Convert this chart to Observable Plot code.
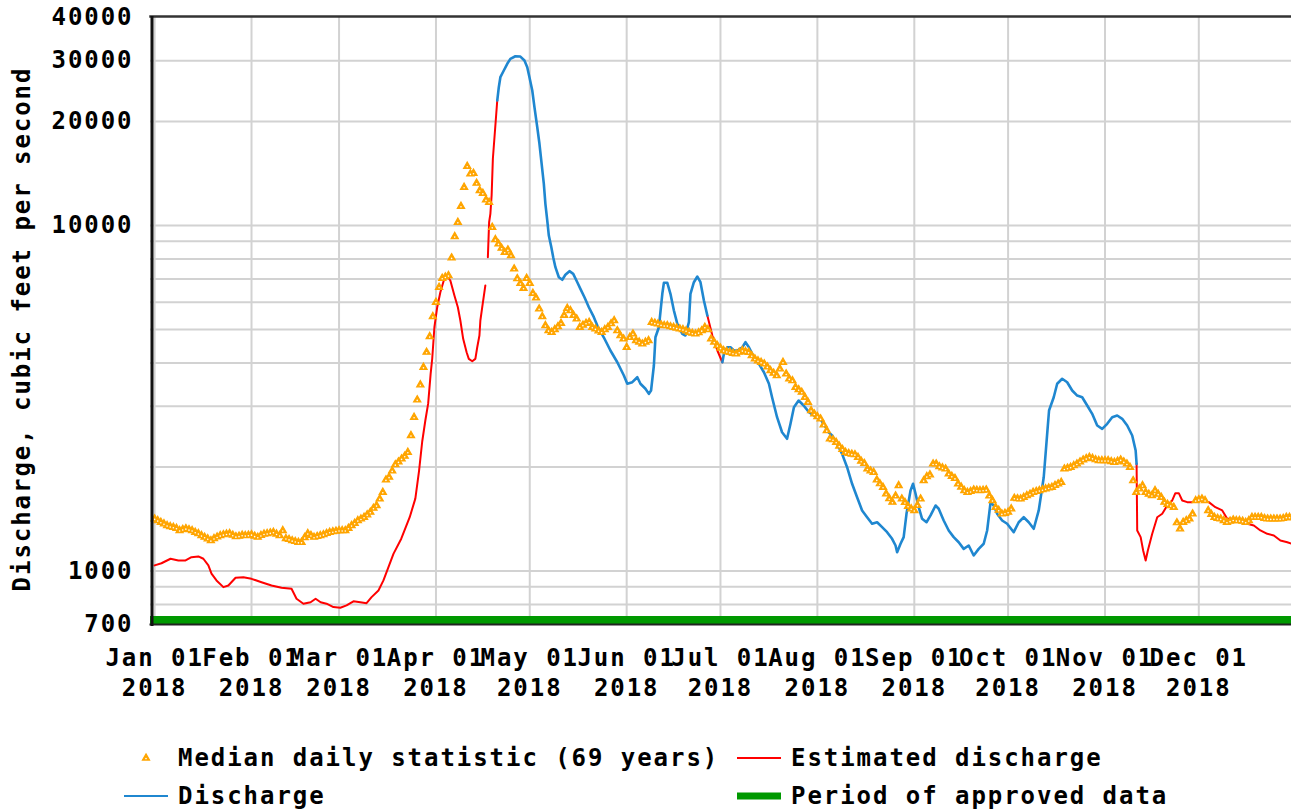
<!DOCTYPE html>
<html>
<head>
<meta charset="utf-8">
<script src="https://cdn.jsdelivr.net/npm/d3@7"></script>
<script src="https://cdn.jsdelivr.net/npm/@observablehq/plot@0.6"></script>
<style>
  html, body { margin: 0; padding: 0; background: #fff; }
  body { width: 1291px; height: 810px; position: relative; overflow: hidden;
         font-family: "DejaVu Sans Mono", monospace; font-weight: bold; }
  #chart { position: absolute; left: 0; top: 0; }
  .lg { position: absolute; font-size: 24px; letter-spacing: 1.95px; line-height: 24px;
        white-space: nowrap; color: #000; }
  .sw { position: absolute; }
</style>
</head>
<body>
<div id="chart"></div>
<div id="legend"></div>
<script>
// ---------------- data ----------------
const year = 2018;
// Median daily statistic (69 years), one value per day starting Jan 1
const medianValues = [
  1416,1400,1384,1370,1354,1345,1339,1330,1310,1320,
  1327,1318,1310,1295,1284,1267,1253,1240,1225,1242,
  1255,1267,1275,1280,1284,1270,1258,1262,1270,1267,
  1270,1275,1262,1253,1268,1280,1284,1290,1295,1280,
  1267,1310,1242,1235,1225,1218,1211,1211,1250,1284,
  1268,1253,1260,1267,1275,1285,1295,1300,1305,1310,
  1310,1310,1330,1354,1375,1400,1415,1431,1455,1480,
  1520,1547,1618,1690,1836,1870,1950,2033,2070,2112,
  2150,2207,2467,2787,3130,3460,3888,4300,4772,5453,
  5997,6629,7038,7100,7165,8064,9293,10220,11370,12910,
  14845,14115,14170,13260,12630,12400,11870,11680,9885,9109,
  8851,8600,8370,8504,8187,7492,7023,6800,6585,7038,
  6806,6368,6177,5739,5453,5135,4966,4910,5000,5100,
  5215,5500,5763,5675,5500,5370,5077,5150,5215,5250,
  5077,5023,4960,4910,5000,5077,5200,5309,4966,4800,
  4699,4443,4749,4858,4646,4600,4545,4600,4646,5250,
  5220,5193,5160,5135,5135,5100,5077,5050,5023,5000,
  4960,4910,4880,4858,4900,4966,5077,5000,4699,4600,
  4494,4420,4347,4320,4297,4270,4252,4300,4347,4320,
  4297,4200,4112,4060,4020,3978,3900,3804,3740,3679,
  3850,4020,3721,3600,3558,3403,3350,3293,3184,3080,
  2914,2850,2800,2757,2650,2550,2413,2400,2359,2300,
  2250,2207,2190,2180,2173,2134,2080,2050,1975,1950,
  1931,1836,1790,1748,1673,1620,1582,1650,1768,1618,
  1580,1540,1514,1497,1550,1618,1827,1877,1900,2042,
  2042,2006,1990,1975,1911,1880,1855,1788,1750,1710,
  1690,1700,1718,1714,1710,1714,1718,1650,1600,1530,
  1500,1464,1470,1480,1514,1625,1620,1618,1635,1654,
  1670,1690,1700,1710,1720,1730,1740,1748,1770,1788,
  1807,1975,1985,1997,2020,2042,2070,2098,2116,2134,
  2120,2100,2088,2088,2088,2088,2075,2064,2080,2098,
  2070,2042,1997,1827,1690,1730,1768,1690,1670,1654,
  1710,1670,1635,1582,1560,1547,1530,1380,1325,1384,
  1400,1416,1464,1600,1610,1618,1600,1497,1460,1431,
  1420,1416,1400,1384,1395,1406,1400,1400,1395,1384,
  1400,1431,1431,1431,1431,1420,1416,1416,1416,1416,
  1416,1420,1431,1431,1425
];

// Estimated discharge (day of year from Jan 1 = 0, value, segment)
const estDays = [
  0,2.2,5.1,7.6,9.9,11.8,14,15.6,17.2,18.2,19.8,22,23.6,25.9,28.4,31,34.2,37.4,40.6,43.8,
  45.4,47.6,49.9,51.5,53.1,55,57.2,59.4,61.4,63.6,65.8,67.8,69.4,71.6,73.2,74.8,76.4,78.9,81.6,83.4,
  84.6,85.6,86.6,87.5,88.3,88.8,89.5,90.4,91.4,92.5,93.6,94.6,95.9,97,97.8,98.7,99.8,100.5,101.6,102.6,
  103.2,103.9,104.2,104.8,105.8,
  106.6,107,107.4,107.8,108.2,109,109.6,
  176.8,178.4,180,181.6,
  314.1,314.3,315.4,316.2,317,317.7,319.1,320.7,322.3,323.9,325.5,326.5,327.6,328.7,330.3,331.9,333.5,
  335.1,337.2,339.3,341.5,343.1,345.2,347.4,349.5,351.6,353.7,355.9,358,360.1,362.3,363.7
];
const estValues = [
  1038,1053,1085,1073,1073,1096,1102,1085,1038,982,939,898,908,956,959,949,928,908,894,888,
  831,804,812,831,812,804,786,783,795,817,812,807,840,878,939,1026,1121,1240,1431,1620,
  1953,2370,2726,3050,3725,4115,5077,5801,6411,6931,7117,6931,6272,5801,5309,4699,4297,4112,4047,4112,
  4443,4804,5309,5801,6705,
  8095,10220,10810,12215,15600,19470,23000,
  5489,4804,4347,4020,
  2042,1310,1253,1146,1072,1146,1281,1431,1464,1547,1600,1680,1680,1600,1582,1582,1607,
  1600,1582,1530,1497,1416,1416,1400,1370,1354,1310,1281,1267,1225,1211,1199
];
const estSeg = [
  ...Array(65).fill(1), ...Array(7).fill(2), ...Array(4).fill(3), ...Array(33).fill(4)
];

// Discharge (approved)
const disDays = [
  109.6,110.1,110.6,111.7,112.8,113.8,115.4,117,118.3,119.2,119.9,120.8,121.5,122.4,123.1,123.8,124.5,125,125.6,126.1,
  126.9,127.5,128.2,129.3,130.4,131.4,132.7,133.9,135.2,136.2,137.5,138.9,140.5,141.6,143.7,145.8,148,150.1,151.2,152.8,
  154.4,155.4,157,158.1,158.8,159.7,160.2,161.3,162.4,162.9,164,165,166.1,167.2,168.8,169.8,170.9,171.4,172.5,173.6,
  174.6,175.7,176.8,
  181.6,182.1,183.2,184.2,185.3,186.4,188,189,190.1,191.7,193.3,194.9,196.5,197.5,199.1,200.7,202.3,203.4,204.5,206,
  207.6,209.3,210.9,212.5,214,215.6,216.7,218.3,219.9,221.5,223.1,224.7,226.3,227.9,229.5,231.1,232.7,234.3,235.9,237,
  237.5,238.6,239.6,240.5,241.8,242.6,243.4,244.4,245.5,246.9,248.2,249.8,250.8,252.4,254,255.6,257.2,258.8,260.4,262,
  263.6,265.2,266.3,267.4,268.4,269.5,271.1,272.7,274.8,276.4,278,279.6,281.2,282.8,284.4,285.5,286.1,287.6,288.7,290.3,
  291.9,293.5,295.1,296.7,298.3,299.9,301.5,303.1,304.7,306.3,307.9,309.5,311.1,312.7,313.8,314.1
];
const disValues = [
  23000,25140,26870,28100,29380,30370,30900,30830,30030,28720,26870,24590,22000,19250,17240,15085,13200,11555,10330,9354,
  8654,8095,7574,7084,6963,7200,7375,7247,6851,6557,6201,5801,5427,5135,4740,4347,4020,3679,3482,3520,
  3638,3482,3368,3256,3330,3933,4749,5077,6343,6825,6825,6343,5675,5193,4858,4804,5250,6343,6851,7117,
  6851,6067,5489,
  4020,4252,4443,4443,4347,4347,4443,4594,4443,4158,3978,3761,3482,3184,2787,2521,2413,2667,2979,3115,
  3013,2882,2818,2787,2667,2521,2467,2334,2183,1997,1788,1635,1497,1431,1370,1384,1339,1295,1239,1185,
  1133,1199,1253,1464,1710,1788,1673,1530,1416,1384,1448,1547,1514,1400,1310,1253,1211,1159,1185,1109,
  1159,1199,1310,1582,1547,1464,1400,1370,1295,1384,1431,1384,1325,1497,1868,2495,2914,3184,3482,3600,
  3519,3330,3219,3184,3013,2850,2637,2579,2667,2787,2818,2757,2637,2467,2232,2042
];
const disSeg = [...Array(63).fill(1), ...Array(disDays.length - 63).fill(2)];

// Period of approved data
const approvedStart = -1.31;
const approvedEnd = 363.65;

// axis ticks
const monthLabels = ["Jan","Feb","Mar","Apr","May","Jun","Jul","Aug","Sep","Oct","Nov","Dec"];
const yTickValues = [700, 1000, 10000, 20000, 30000, 40000];
const yGridValues = [800, 900, 1000, 2000, 3000, 4000, 5000, 6000, 7000, 8000, 9000, 10000, 20000, 30000];
const yLabel = "Discharge, cubic feet per second";

// legend
const legendItems = [
  {label: "Median daily statistic (69 years)", kind: "dot", color: "#ffa500"},
  {label: "Estimated discharge", kind: "line", color: "#ff0000"},
  {label: "Discharge", kind: "line", color: "#1f87d0"},
  {label: "Period of approved data", kind: "bar", color: "#009900"}
];

// ---------------- build ----------------
const DAY = 86400000;
const t0 = Date.UTC(year, 0, 1);
const toDate = d => new Date(t0 + d * DAY);

const median = medianValues.map((v, i) => ({date: toDate(i), value: v}));
const est = estDays.map((d, i) => ({date: toDate(d), value: estValues[i], seg: estSeg[i]}));
const dis = disDays.map((d, i) => ({date: toDate(d), value: disValues[i], seg: disSeg[i]}));
const months = monthLabels.map((m, i) => new Date(Date.UTC(year, i, 1)));
const approved = [{start: toDate(approvedStart), end: toDate(approvedEnd)}];

const fmtX = d => `${monthLabels[d.getUTCMonth()]} 01\n${d.getUTCFullYear()}`;

const chart = Plot.plot({
  width: 1291,
  height: 720,
  marginLeft: 150,
  marginRight: 0,
  marginTop: 17,
  marginBottom: 96,
  style: {
    fontFamily: "'DejaVu Sans Mono', monospace",
    fontSize: "24px",
    fontWeight: "bold",
    letterSpacing: "1.95px",
    background: "white",
    color: "#000",
    overflow: "visible"
  },
  x: {type: "utc", domain: [toDate(-1.31), toDate(363.65)]},
  y: {type: "log", domain: [700, 40000]},
  marks: [
    Plot.gridY(yGridValues, {stroke: "#d2d2d2", strokeOpacity: 1, strokeWidth: 2}),
    Plot.gridX(months, {stroke: "#d2d2d2", strokeOpacity: 1, strokeWidth: 2}),
    Plot.line(est, {x: "date", y: "value", z: "seg", stroke: "#ff0000", strokeWidth: 2}),
    Plot.line(dis, {x: "date", y: "value", z: "seg", stroke: "#1f87d0", strokeWidth: 2.6}),
    Plot.dot(median, {x: "date", y: "value", symbol: "triangle", r: 2.7, fill: "#ffa500", stroke: "#ffa500", strokeWidth: 1.2}),
    Plot.dot(median, {x: "date", y: "value", r: 0.8, fill: "white", dy: 0.6}),
    Plot.ruleY(approved, {y: () => 700, x1: "start", x2: "end", stroke: "#009900", strokeWidth: 8, dy: -4.5}),
    Plot.frame({anchor: "bottom", stroke: "#222", strokeWidth: 2}),
    Plot.frame({anchor: "top", stroke: "#333", strokeWidth: 2.5, dy: -1}),
    Plot.frame({anchor: "left", stroke: "#111", strokeWidth: 3, dx: 1.5}),
    Plot.axisX(months, {tickSize: 0, tickPadding: 20, tickFormat: fmtX, lineHeight: 1.25, label: null}),
    Plot.axisY(yTickValues, {tickSize: 0, tickPadding: 17, tickFormat: d => String(d), label: null}),
    Plot.text([yLabel], {frameAnchor: "left", text: d => d, rotate: -90, dx: -128, dy: 8,
                         textAnchor: "middle", lineAnchor: "middle"})
  ]
});
document.getElementById("chart").appendChild(chart);

// legend (HTML)
const legend = document.getElementById("legend");
const legendPos = [
  {sx: 146, tx: 178, cy: 758},
  {sx: 737, tx: 791, cy: 758},
  {sx: 124, tx: 178, cy: 796},
  {sx: 737, tx: 791, cy: 796}
];
legendItems.forEach((it, i) => {
  const p = legendPos[i];
  const sw = document.createElementNS("http://www.w3.org/2000/svg", "svg");
  sw.setAttribute("class", "sw");
  sw.setAttribute("width", 50); sw.setAttribute("height", 16);
  sw.style.left = (it.kind === "dot" ? p.sx - 8 : p.sx) + "px";
  sw.style.top = (p.cy - 8) + "px";
  if (it.kind === "dot") {
    const sym = d3.symbol(d3.symbolTriangle, 22)();
    const path = document.createElementNS("http://www.w3.org/2000/svg", "path");
    path.setAttribute("d", sym);
    path.setAttribute("transform", "translate(8,8)");
    path.setAttribute("fill", it.color);
    path.setAttribute("stroke", it.color);
    path.setAttribute("stroke-width", 1.2);
    sw.appendChild(path);
    const c = document.createElementNS("http://www.w3.org/2000/svg", "circle");
    c.setAttribute("cx", 8); c.setAttribute("cy", 8.6); c.setAttribute("r", 0.8);
    c.setAttribute("fill", "white");
    sw.appendChild(c);
  } else {
    const ln = document.createElementNS("http://www.w3.org/2000/svg", "line");
    ln.setAttribute("x1", 0); ln.setAttribute("x2", 44);
    ln.setAttribute("y1", 8); ln.setAttribute("y2", 8);
    ln.setAttribute("stroke", it.color);
    ln.setAttribute("stroke-width", it.kind === "bar" ? 7 : 2);
    sw.appendChild(ln);
  }
  legend.appendChild(sw);
  const tx = document.createElement("div");
  tx.className = "lg";
  tx.textContent = it.label;
  tx.style.left = p.tx + "px";
  tx.style.top = (p.cy - 12) + "px";
  legend.appendChild(tx);
});
</script>
</body>
</html>
